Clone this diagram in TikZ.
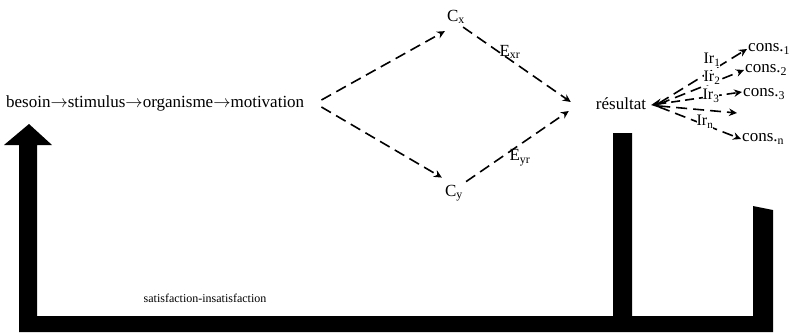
\documentclass[tikz,border=0pt]{standalone}
\usepackage{fontspec}
\setmainfont{Liberation Serif}
\usetikzlibrary{arrows.meta}
\tikzset{
  lbl/.style={inner sep=1pt, font=\fontsize{17}{19}\selectfont},
  irlbl/.style={inner sep=0pt, fill=white, font=\fontsize{16}{18}\selectfont},
  small/.style={inner sep=1pt, font=\fontsize{12}{14}\selectfont},
  dasharrow/.style={line width=1.6pt, dash pattern=on 11pt off 6pt, -{Stealth[length=8pt,width=7.5pt]}},
  dashline/.style={line width=1.6pt, dash pattern=on 9pt off 5pt},
  thick bar/.style={fill=black, draw=none}
}
\begin{document}
\begin{tikzpicture}[x=1pt,y=-1pt]
\useasboundingbox (0,0) rectangle (789,332);
% text nodes (y grows downwards; yshift is in page direction, up = positive)
\node[lbl, anchor=west] (chain) at (5,103) {besoin$\rightarrow$stimulus$\rightarrow$organisme$\rightarrow$motivation};
\node[lbl] (cx) at (456,17) {C\textsubscript{x}};
\node[lbl] (cy) at (454,193) {C\textsubscript{y}};
\node[lbl] (exr) at (510,52) {E\textsubscript{xr}};
\node[lbl] (eyr) at (520,158) {E\textsubscript{yr}};
\node[lbl] (res) at (621,104) {résultat};
\node[lbl, anchor=west] (c1) at (747,49) {cons.\textsubscript{1}};
\node[lbl, anchor=west] (c2) at (744,70) {cons.\textsubscript{2}};
\node[lbl, anchor=west] (c3) at (742,94) {cons.\textsubscript{3}};
\node[lbl, anchor=west] (cn) at (741,139) {cons.\textsubscript{n}};
\coordinate (c4) at (737,113);
\node[small] (sat) at (205,298) {satisfaction-insatisfaction};
% diamond
\draw[dasharrow] ([xshift=16pt,yshift=3pt]chain.east) -- ([xshift=-1pt,yshift=-6pt]cx.south west);
\draw[dasharrow] ([xshift=16pt,yshift=-4pt]chain.east) -- ([xshift=-2pt,yshift=6pt]cy.north west);
\draw[dasharrow] ([xshift=-3pt,yshift=-2pt]cx.south east) -- ([xshift=-24pt,yshift=2pt]res.west);
\draw[dasharrow] ([xshift=2pt,yshift=2pt]cy.north east) -- ([xshift=-26pt,yshift=-7pt]res.west);
% fan
\draw[dashline, {Stealth[length=10pt,width=10pt]}-{Stealth[length=8pt,width=7.5pt]}] ([xshift=4pt,yshift=-1pt]res.east) -- ([yshift=2pt]c3.west);
\draw[dasharrow] ([xshift=12pt,yshift=1pt]res.east) -- (c1.west);
\draw[dasharrow] ([xshift=12pt,yshift=0pt]res.east) -- (c2.west);
\draw[dasharrow] ([xshift=12pt,yshift=-2pt]res.east) -- (c4);
\draw[dasharrow] ([xshift=12pt,yshift=-3pt]res.east) -- (cn.west);
\node[irlbl] (ir1) at (712,60) {Ir\textsubscript{1}};
\node[irlbl] (ir2) at (712,78) {Ir\textsubscript{2}};
\node[irlbl] (ir3) at (711,96) {Ir\textsubscript{3}};
\node[irlbl] (irn) at (705,122) {Ir\textsubscript{n}};
% thick feedback frame
\fill[thick bar] (19,332) -- (19,145) -- (4,145) -- (29,124) -- (52,145) -- (37,145) -- (37,316)
  -- (613,316) -- (613,133) -- (632,133) -- (632,316) -- (753,316) -- (753,206) -- (773,210)
  -- (773,332) -- cycle;
\end{tikzpicture}
\end{document}
